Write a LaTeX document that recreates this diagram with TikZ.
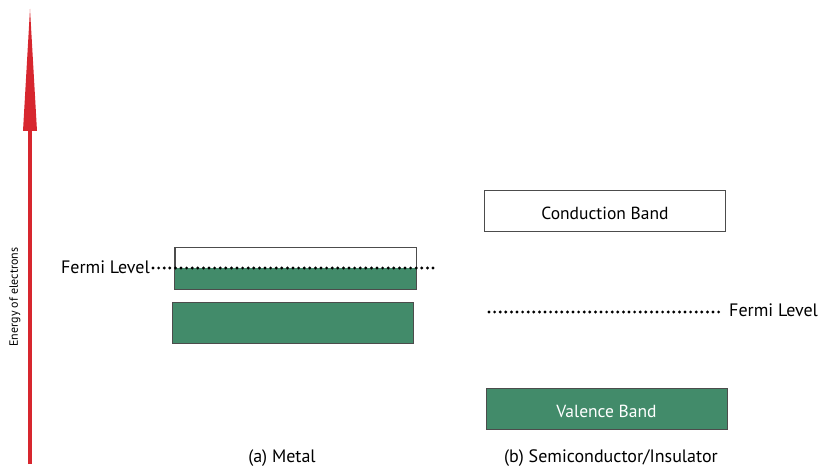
\documentclass[tikz,border=0pt]{standalone}
\usepackage{fontspec}
\setmainfont{PT Sans}
\usetikzlibrary{arrows.meta,positioning}
\definecolor{bandgreen}{RGB}{66,139,106}
\definecolor{arrowred}{RGB}{215,38,46}

\begin{document}
\begin{tikzpicture}[x=1pt,y=-1pt,
                    band_node/.style={rectangle, draw=black!70, line width=0.8pt, minimum width=241pt, minimum height=41pt, inner sep=0pt, text height=17pt, text depth=0pt, font=\fontsize{17.5}{19}\selectfont},
                    empty_band/.style={band_node, fill=white},
                    full_band/.style={band_node, fill=bandgreen, text=white},
                    fermi_line/.style={line width=3.2pt, line cap=round, dash pattern=on 0pt off 5.6pt},
                    label_node/.style={inner sep=0pt, font=\fontsize{18}{20}\selectfont}
                ]
                    \useasboundingbox (0,0) rectangle (819,468);

                    % energy axis
                    \coordinate (axis_bottom) at (30,464);
                    \coordinate (axis_top) at (30,9);
                    \draw[arrowred, line width=4pt, -{Triangle[length=122pt, width=14pt, line width=0pt]}] (axis_bottom) -- (axis_top);
                    \node[label_node, rotate=90, font=\fontsize{12}{14}\selectfont] (axis_label) at (15,297) {Energy of electrons};

                    % (a) metal
                    \node[empty_band] (metal_top) at (295.5,268) {};
                    \fill[bandgreen] (metal_top.west) rectangle (metal_top.south east);
                    \draw[black!70, line width=0.8pt] (metal_top.north west) rectangle (metal_top.south east);
                    \node[full_band] (metal_low) at (293,322.5) {};
                    \coordinate (fermi_a_start) at (153,268);
                    \coordinate (fermi_a_end) at (436,268);
                    \draw[fermi_line] (fermi_a_start) -- (fermi_a_end);
                    \node[label_node, anchor=east] (fermi_a) at (150,267) {Fermi Level};
                    \node[label_node] (caption_a) at (282,458) {(a) Metal};

                    % (b) semiconductor / insulator
                    \node[empty_band] (conduction) at (605,210.5) {Conduction Band};
                    \node[full_band] (valence) at (606.5,408.5) {Valence Band};
                    \coordinate (fermi_b_start) at (489,312);
                    \coordinate (fermi_b_end) at (721,312);
                    \draw[fermi_line] (fermi_b_start) -- (fermi_b_end);
                    \node[label_node, anchor=west] (fermi_b) at (729,310) {Fermi Level};
                    \node[label_node] (caption_b) at (611,458) {(b) Semiconductor/Insulator};
                \end{tikzpicture}
\end{document}
